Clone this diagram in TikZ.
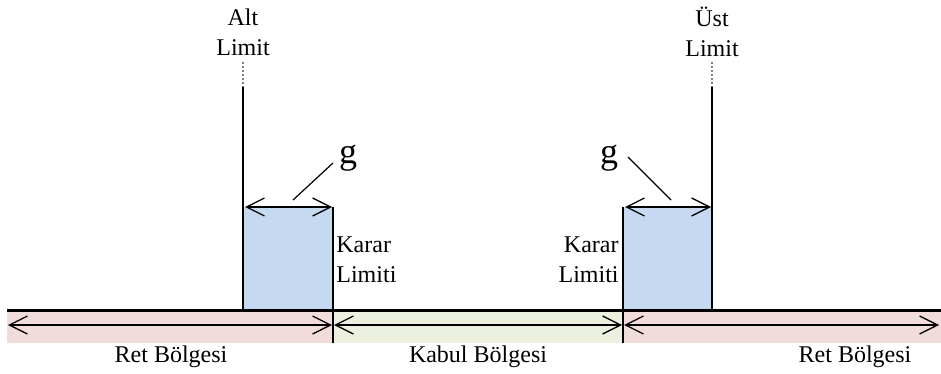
\documentclass[tikz,border=0pt]{standalone}
\usepackage{fontspec}
\setmainfont{Liberation Serif}
\usetikzlibrary{arrows.meta}
\definecolor{retpink}{RGB}{242,220,219}
\definecolor{kabulgreen}{RGB}{235,241,222}
\definecolor{gband}{RGB}{197,217,240}
\begin{document}
\begin{tikzpicture}[x=0.5pt, y=-0.5pt,
  span/.style={{Straight Barb[length=9pt,width=9pt]}-{Straight Barb[length=9pt,width=9pt]}, line width=0.65pt},
  limit/.style={line width=1pt},
  lbl/.style={font=\fontsize{12}{15}\selectfont, inner sep=0pt}]
\useasboundingbox (0,0) rectangle (941,374);
% bands under the axis
\fill[retpink] (7,310) rectangle (333,343);
\fill[kabulgreen] (333,310) rectangle (623,343);
\fill[retpink] (623,310) rectangle (941,343);
% guard bands g
\fill[gband] (243,207) rectangle (333,310);
\fill[gband] (623,207) rectangle (712,310);
% key points
\coordinate (A) at (7,310);
\coordinate (B) at (941,310);
\coordinate (altTop) at (243,62);
\coordinate (altMid) at (243,87);
\coordinate (altBot) at (243,310);
\coordinate (ustTop) at (712,62);
\coordinate (ustMid) at (712,87);
\coordinate (ustBot) at (712,310);
\coordinate (kL) at (333,207);
\coordinate (kLb) at (333,343);
\coordinate (kR) at (623,207);
\coordinate (kRb) at (623,343);
% limits
\draw[limit] (altMid) -- (altBot);
\draw[limit] (ustMid) -- (ustBot);
\draw[gray, line width=0.6pt, dash pattern=on 1.2pt off 0.8pt] (altTop) -- (altMid);
\draw[gray, line width=0.6pt, dash pattern=on 1.2pt off 0.8pt] (ustTop) -- (ustMid);
\draw[limit] (kL) -- (kLb);
\draw[limit] (kR) -- (kRb);
\draw[line width=1.5pt] (A) -- (B);
% region arrows
\coordinate (a0) at (8,325);
\coordinate (a1) at (332,325);
\coordinate (a2) at (334,325);
\coordinate (a3) at (622,325);
\coordinate (a4) at (624,325);
\coordinate (a5) at (939,325);
\draw[span] (a0) -- (a1);
\draw[span] (a2) -- (a3);
\draw[span] (a4) -- (a5);
% g arrows
\coordinate (gl0) at (245,207);
\coordinate (gl1) at (332,207);
\coordinate (gr0) at (625,207);
\coordinate (gr1) at (711,207);
\draw[span] (gl0) -- (gl1);
\draw[span] (gr0) -- (gr1);
\node[font=\fontsize{18}{20}\selectfont] (gL) at (348,158) {g};
\node[font=\fontsize{18}{20}\selectfont] (gR) at (609,158) {g};
\coordinate (gLa) at (293,200);
\coordinate (gLb) at (333,163);
\coordinate (gRa) at (671,200);
\coordinate (gRb) at (628,157);
\draw[line width=0.6pt] (gLa) -- (gLb);
\draw[line width=0.6pt] (gRa) -- (gRb);
% texts
\node[lbl, align=center] (alt) at (243,32) {Alt\\Limit};
\node[lbl, align=center] (ust) at (712,32) {Üst\\Limit};
\node[lbl, align=left, anchor=west] (karL) at (336,260) {Karar\\Limiti};
\node[lbl, align=right, anchor=east] (karR) at (619,260) {Karar\\Limiti};
\node[lbl] (ret1) at (171,357) {Ret Bölgesi};
\node[lbl] (kabul) at (478,357) {Kabul Bölgesi};
\node[lbl] (ret2) at (855,357) {Ret Bölgesi};
\end{tikzpicture}
\end{document}
